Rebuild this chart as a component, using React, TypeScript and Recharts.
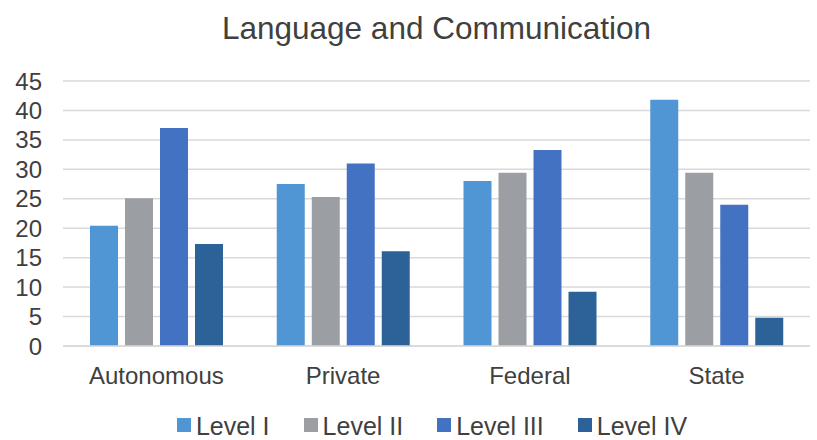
import React from "react";
import { BarChart, Bar, XAxis, YAxis, CartesianGrid } from "recharts";

const categories = ["Autonomous", "Private", "Federal", "State"];
const levelI = [20.4, 27.5, 28.0, 41.8];
const levelII = [25.1, 25.3, 29.4, 29.4];
const levelIII = [37.0, 31.0, 33.3, 24.0];
const levelIV = [17.3, 16.1, 9.2, 4.8];
const yTicks = [0, 5, 10, 15, 20, 25, 30, 35, 40, 45];

const series = [
  { key: "l1", name: "Level I", color: "#5196d4", values: levelI },
  { key: "l2", name: "Level II", color: "#9b9ea3", values: levelII },
  { key: "l3", name: "Level III", color: "#4472c2", values: levelIII },
  { key: "l4", name: "Level IV", color: "#2d6299", values: levelIV },
];

const data = categories.map((name, i) => {
  const row: Record<string, string | number> = { name };
  series.forEach((s) => {
    row[s.key] = s.values[i];
  });
  return row;
});

const FONT = "'Liberation Sans', Arial, Helvetica, sans-serif";
const TEXT = "#404040";

export default function App() {
  return (
    <div
      style={{
        position: "absolute",
        left: 0,
        top: 0,
        width: 817,
        height: 440,
        background: "#fff",
        fontFamily: FONT,
      }}
    >
      <div
        style={{
          position: "absolute",
          top: 10,
          left: 63,
          width: 747,
          textAlign: "center",
          fontSize: 31.5,
          color: TEXT,
          lineHeight: "normal",
        }}
      >
        Language and Communication
      </div>
      <BarChart
        width={817}
        height={440}
        data={data}
        margin={{ top: 81, right: 7, left: 0, bottom: 44 }}
        barSize={28}
        barGap={7}
      >
        <CartesianGrid vertical={false} stroke="#d9d9d9" strokeWidth={1.5} />
        <XAxis
          dataKey="name"
          height={50}
          axisLine={{ stroke: "#d9d9d9", strokeWidth: 1.5 }}
          tickLine={false}
          tickMargin={15}
          tick={{ fill: TEXT, fontSize: 24, fontFamily: FONT }}
        />
        <YAxis
          width={63}
          domain={[0, 45]}
          ticks={yTicks}
          interval={0}
          axisLine={false}
          tickLine={false}
          tickMargin={15}
          tick={{ fill: TEXT, fontSize: 24, fontFamily: FONT }}
        />
        {series.map((s) => (
          <Bar
            key={s.key}
            dataKey={s.key}
            name={s.name}
            fill={s.color}
            isAnimationActive={false}
          />
        ))}
      </BarChart>
      <div
        style={{
          position: "absolute",
          top: 415,
          left: 0,
          width: 817,
          display: "flex",
          justifyContent: "center",
          gap: 34,
          paddingLeft: 47,
          boxSizing: "border-box",
          fontSize: 25,
          color: TEXT,
          lineHeight: "22px",
        }}
      >
        {series.map((s) => (
          <div key={s.key} style={{ display: "flex", alignItems: "center" }}>
            <span
              style={{
                display: "inline-block",
                width: 14,
                height: 14,
                background: s.color,
                marginRight: 5,
                position: "relative",
                top: -1,
              }}
            />
            <span>{s.name}</span>
          </div>
        ))}
      </div>
    </div>
  );
}
